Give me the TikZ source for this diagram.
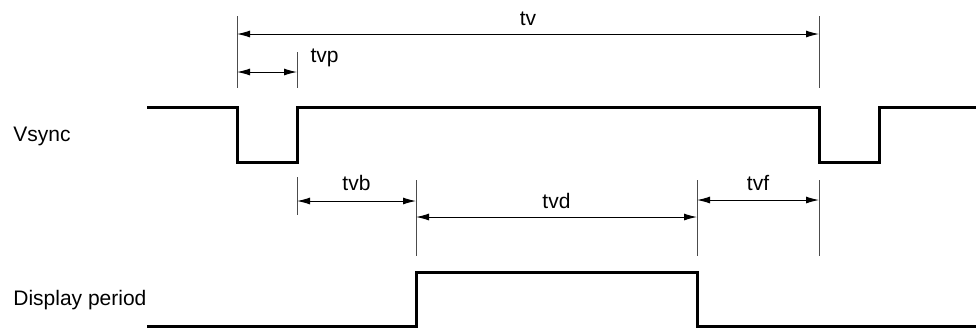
\documentclass[tikz,border=0pt]{standalone}
\usepackage{fontspec}
\setmainfont{Liberation Sans}
\usetikzlibrary{arrows.meta}
\begin{document}
\begin{tikzpicture}[x=0.5pt,y=-0.5pt,
    sig/.style={line width=1.5pt,line join=miter},
    tick/.style={line width=0.5pt,black!70},
    dim/.style={line width=0.5pt,{Latex[length=6.5pt,width=3.5pt]}-{Latex[length=6.5pt,width=3.5pt]}},
    lbl/.style={inner sep=0pt,anchor=base,font=\fontsize{10.5}{12}\selectfont}]

    \useasboundingbox (0,0) rectangle (976,329);

    %signal names:
    \node[lbl,anchor=base west] (vsync) at (13,141) {Vsync};
    \node[lbl,anchor=base west] (disp) at (13,305) {Display period};

    %waveforms:
    \draw[sig] (147,107) -- (237,107) -- (237,162) -- (297,162) -- (297,107)
        -- (819,107) -- (819,162) -- (879,162) -- (879,107) -- (976,107);
    \draw[sig] (147,326) -- (416,326) -- (416,272) -- (697,272) -- (697,326) -- (976,326);

    %extension lines:
    \foreach \n/\x/\ya/\yb in {sA/237/16/88, pB/297/52/88, vE/819/16/88,
        bA/297/177/215, dA/416/180/256, fA/697/180/256, fB/819/180/256}
        \draw[tick] (\x,\ya) coordinate (\n top) -- (\x,\yb) coordinate (\n bot);

    %arrow ends:
    \coordinate (tv1) at (237,34);  \coordinate (tv2) at (819,34);
    \coordinate (tvp1) at (237,72); \coordinate (tvp2) at (297,72);
    \coordinate (tvb1) at (297,201); \coordinate (tvb2) at (416,201);
    \coordinate (tvd1) at (416,217); \coordinate (tvd2) at (697,217);
    \coordinate (tvf1) at (697,200); \coordinate (tvf2) at (819,200);

    %dimensions:
    \draw[dim] (tv1) -- (tv2) node[lbl,midway,yshift=4.5pt] (tv) {tv};
    \draw[dim] (tvp1) -- (tvp2) node[lbl,anchor=base west,xshift=6.5pt,yshift=5pt] (tvp) {tvp};
    \draw[dim] (tvb1) -- (tvb2) node[lbl,midway,yshift=5.5pt] (tvb) {tvb};
    \draw[dim] (tvd1) -- (tvd2) node[lbl,midway,yshift=4.5pt] (tvd) {tvd};
    \draw[dim] (tvf1) -- (tvf2) node[lbl,midway,yshift=5pt] (tvf) {tvf};

\end{tikzpicture}
\end{document}
